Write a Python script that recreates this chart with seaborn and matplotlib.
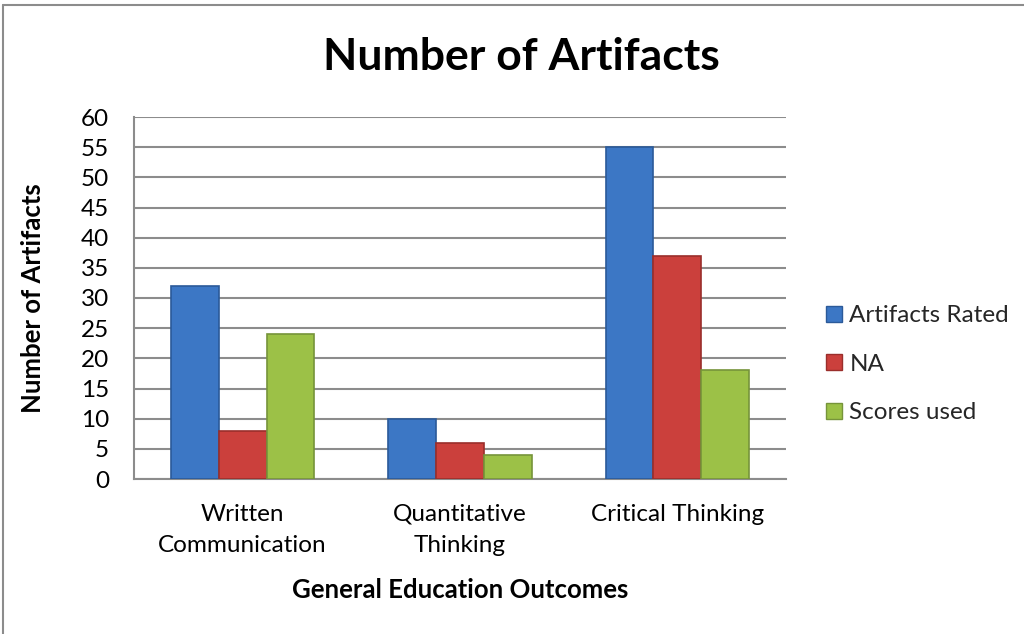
import matplotlib
matplotlib.use("Agg")
import matplotlib.pyplot as plt
import seaborn as sns
import pandas as pd
from matplotlib.lines import Line2D

categories = ["Written\nCommunication", "Quantitative\nThinking", "Critical Thinking"]
series_names = ["Artifacts Rated", "NA", "Scores used"]
artifacts_rated = [32, 10, 55]
na_values = [8, 6, 37]
scores_used = [24, 4, 18]
y_ticks = list(range(0, 61, 5))

colors = ["#3C77C5", "#CB403C", "#9CC147"]
edge_colors = ["#2B5A99", "#9A2E2B", "#76943A"]

rows = []
for s, vals in zip(series_names, [artifacts_rated, na_values, scores_used]):
    for c, v in zip(categories, vals):
        rows.append({"category": c, "series": s, "value": v})
df = pd.DataFrame(rows)

sns.set_theme(style="white")
plt.rcParams["font.family"] = ["Lato", "DejaVu Sans"]

fig = plt.figure(figsize=(10.24, 6.34), dpi=100)
ax = fig.add_axes([134/1024, 1-479/634, (786-134)/1024, (479-117)/634])

sns.barplot(data=df, x="category", y="value", hue="series", order=categories,
            hue_order=series_names, palette=colors, width=0.66, ax=ax,
            saturation=1, legend=True, zorder=3)

for container, ec in zip(ax.containers, edge_colors):
    for bar in container:
        bar.set_edgecolor(ec)
        bar.set_linewidth(1.2)

ax.set_ylim(0, 60)
ax.set_yticks(y_ticks)
ax.set_xlim(-0.5, 2.5)
ax.yaxis.grid(True, color="#8C8C8C", linewidth=1.5, zorder=0)
ax.set_axisbelow(True)
for side in ["top", "right"]:
    ax.spines[side].set_visible(False)
for side in ["left", "bottom"]:
    ax.spines[side].set_color("#8C8C8C")
    ax.spines[side].set_linewidth(1.5)
ax.tick_params(axis="both", length=0, labelsize=17.5, colors="black")
ax.tick_params(axis="y", pad=18)
ax.tick_params(axis="x", pad=18)
for lbl in ax.get_xticklabels():
    lbl.set_linespacing(1.6)

ax.set_xlabel("General Education Outcomes", fontsize=18.5, fontweight="bold",
              labelpad=16, color="black")
ax.set_ylabel("Number of Artifacts", fontsize=18.5, fontweight="bold",
              labelpad=26, color="black")

fig.text(521/1024, 1-57/634, "Number of Artifacts", ha="center", va="center",
         fontsize=32, fontweight="bold", color="black")

leg = ax.legend(loc="center left", bbox_to_anchor=(1.047, 0.317), frameon=False,
                fontsize=17.5, handlelength=0.65, handleheight=0.65,
                labelspacing=1.13, handletextpad=0.3, borderaxespad=0)
for h, ec in zip(leg.legend_handles, edge_colors):
    h.set_edgecolor(ec)

# outer chart border (left and top only)
fig.add_artist(Line2D([3/1024, 3/1024], [0, 1-5/634], transform=fig.transFigure,
                      color="#8C8C8C", linewidth=1.5))
fig.add_artist(Line2D([3/1024, 1.0], [1-5/634, 1-5/634], transform=fig.transFigure,
                      color="#8C8C8C", linewidth=1.5))

fig.savefig("out.png", dpi=100)
